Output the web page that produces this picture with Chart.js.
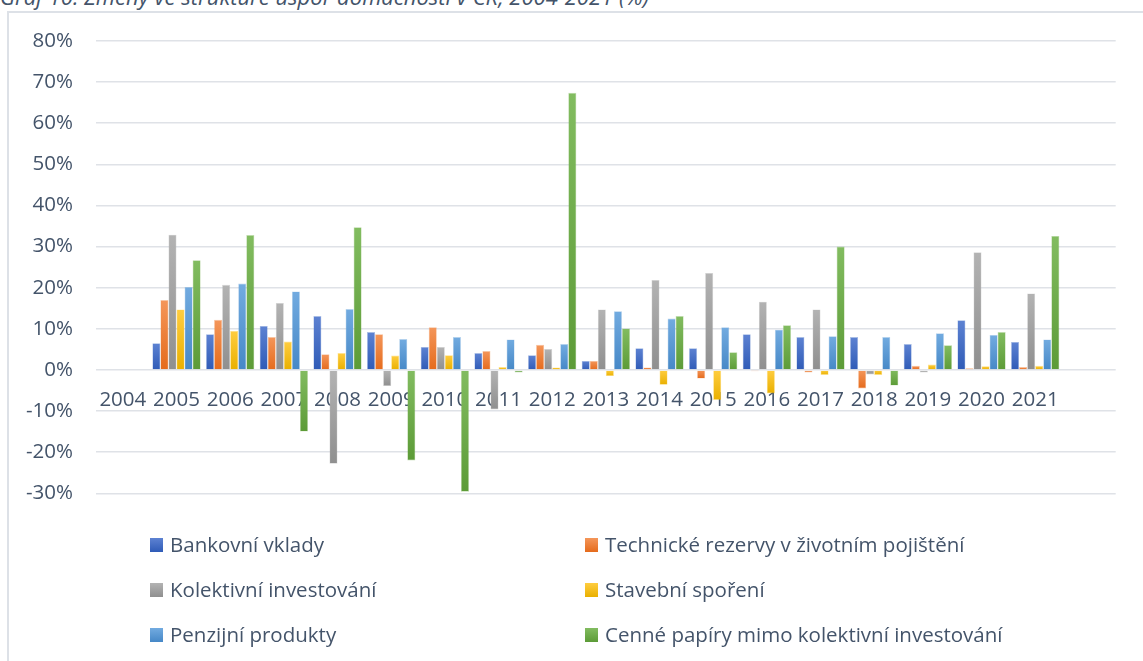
<!DOCTYPE html>
<html>
<head>
<meta charset="utf-8">
<script src="https://cdn.jsdelivr.net/npm/chart.js@4"></script>
<style>
  html, body { margin: 0; padding: 0; background: #ffffff; }
  body { width: 1143px; height: 661px; position: relative; overflow: hidden; font-family: 'Open Sans', sans-serif; }
  #title { position: absolute; left: 0; top: -15px; font-style: italic; font-size: 22px; line-height: 22px; color: #44546A; white-space: nowrap; }
  #frame { position: absolute; left: 7px; top: 11px; width: 1200px; height: 700px; border-left: 2px solid #dde1e7; border-top: 2px solid #dde1e7; }
  #wrap { position: absolute; left: 0; top: 0; width: 1143px; height: 661px; }
  #legend { position: absolute; left: 0; top: 0; width: 1143px; height: 661px; pointer-events: none; }
  .item { position: absolute; font-size: 20.5px; color: #44546A; white-space: nowrap; line-height: 24px; }
  .sw { position: absolute; width: 13px; height: 14px; }
</style>
</head>
<body>
<div id="title">Graf 10: Změny ve struktuře úspor domácností v ČR, 2004-2021 (%)</div>
<div id="frame"></div>
<div id="wrap"><canvas id="chart"></canvas></div>
<div id="legend"></div>
<script>
// ---- data (percent) ----
const categories = ['2004','2005','2006','2007','2008','2009','2010','2011','2012','2013','2014','2015','2016','2017','2018','2019','2020','2021',''];
const seriesNames = ['Bankovní vklady','Technické rezervy v životním pojištění','Kolektivní investování','Stavební spoření','Penzijní produkty','Cenné papíry mimo kolektivní investování'];
const bankovniVklady   = [null, 6.5, 8.7, 10.7, 13.1, 9.2, 5.6, 4.1, 3.6, 2.2, 5.3, 5.3, 8.7, 8.0, 8.0, 6.3, 12.1, 6.8, null];
const technickeRezervy = [null, 17.0, 12.2, 8.0, 3.8, 8.7, 10.4, 4.6, 6.1, 2.2, 0.6, -2.1, -0.3, -0.6, -4.5, 1.0, 0.4, 0.7, null];
const kolektivniInv    = [null, 32.9, 20.7, 16.3, -22.8, -3.9, 5.6, -9.6, 5.1, 14.7, 21.9, 23.6, 16.6, 14.7, -1.1, -0.6, 28.6, 18.6, null];
const stavebniSporeni  = [null, 14.7, 9.5, 6.9, 4.1, 3.5, 3.6, 0.7, 0.6, -1.5, -3.6, -7.3, -5.7, -1.2, -1.2, 1.3, 0.9, 1.0, null];
const penzijniProdukty = [null, 20.2, 21.0, 19.1, 14.8, 7.5, 8.0, 7.4, 6.3, 14.3, 12.5, 10.4, 9.8, 8.2, 8.0, 8.9, 8.5, 7.4, null];
const cennePapiry      = [null, 26.7, 32.8, -15.0, 34.7, -22.0, -29.6, -0.6, 67.4, 10.1, 13.1, 4.3, 10.9, 30.0, -3.8, 6.0, 9.2, 32.6, null];
const yTicksMin = -30, yTicksMax = 80, yTickStep = 10;

// ---- styles ----
const palette = [
  ['#5d82d2', '#2f5bb7', 'rgba(68,114,196,0.45)'],
  ['#f4965a', '#e56b1c', 'rgba(237,125,49,0.45)'],
  ['#b3b3b3', '#8f8f8f', 'rgba(165,165,165,0.45)'],
  ['#ffcd40', '#e9b000', 'rgba(255,192,0,0.45)'],
  ['#72abe0', '#4688c7', 'rgba(91,155,213,0.45)'],
  ['#82bc60', '#5c9b37', 'rgba(112,173,71,0.45)']
];
const seriesData = [bankovniVklady, technickeRezervy, kolektivniInv, stavebniSporeni, penzijniProdukty, cennePapiry];

function gradFill(i) {
  return (ctx) => {
    const chart = ctx.chart;
    const base = palette[i][0];
    if (!chart.chartArea || ctx.type !== 'data') return base;
    const v = ctx.raw;
    if (v === null || v === undefined) return base;
    const ys = chart.scales.y;
    const a = ys.getPixelForValue(0), b = ys.getPixelForValue(v);
    const top = Math.min(a, b), bot = Math.max(a, b);
    if (bot - top < 2) return palette[i][1];
    const g = chart.ctx.createLinearGradient(0, top, 0, bot);
    g.addColorStop(0, palette[i][0]);
    g.addColorStop(1, palette[i][1]);
    return g;
  };
}

const font = { family: "'Open Sans', sans-serif", size: 20.5 };

new Chart(document.getElementById('chart'), {
  type: 'bar',
  data: {
    labels: categories,
    datasets: seriesData.map((d, i) => ({
      label: seriesNames[i],
      data: d,
      backgroundColor: gradFill(i),
      borderColor: palette[i][2],
      borderWidth: 0.6,
      borderSkipped: 'start',
      categoryPercentage: 0.9,
      barPercentage: 1.0
    }))
  },
  options: {
    responsive: true,
    maintainAspectRatio: false,
    animation: false,
    layout: { padding: { top: 41, right: 27.3, bottom: 167.7, left: 0 } },
    plugins: { legend: { display: false }, tooltip: { enabled: false } },
    scales: {
      x: {
        position: { y: 0 },
        grid: { display: false, drawTicks: false },
        border: { display: false },
        ticks: { font: font, color: '#44546A', padding: 18, maxRotation: 0, autoSkip: false },
        afterFit: (s) => { s.height = 0; }
      },
      y: {
        min: yTicksMin, max: yTicksMax,
        grid: { color: '#dfe2e7', lineWidth: 1.5, drawTicks: false },
        border: { display: false },
        ticks: { stepSize: yTickStep, font: font, color: '#44546A', padding: 23, callback: (v) => v + '%' },
        afterFit: (s) => { s.width = 96; }
      }
    }
  }
});

// ---- HTML legend (2 columns, 3 rows) ----
const legend = document.getElementById('legend');
const colX = [150, 585];
const rowY = [545, 590, 635];
seriesNames.forEach((name, i) => {
  const col = i % 2, row = Math.floor(i / 2);
  const sw = document.createElement('div');
  sw.className = 'sw';
  sw.style.left = colX[col] + 'px';
  sw.style.top = (rowY[row] - 7) + 'px';
  sw.style.background = 'linear-gradient(' + palette[i][0] + ',' + palette[i][1] + ')';
  legend.appendChild(sw);
  const t = document.createElement('div');
  t.className = 'item';
  t.style.left = (colX[col] + 20) + 'px';
  t.style.top = (rowY[row] - 13) + 'px';
  t.textContent = name;
  legend.appendChild(t);
});
</script>
</body>
</html>
